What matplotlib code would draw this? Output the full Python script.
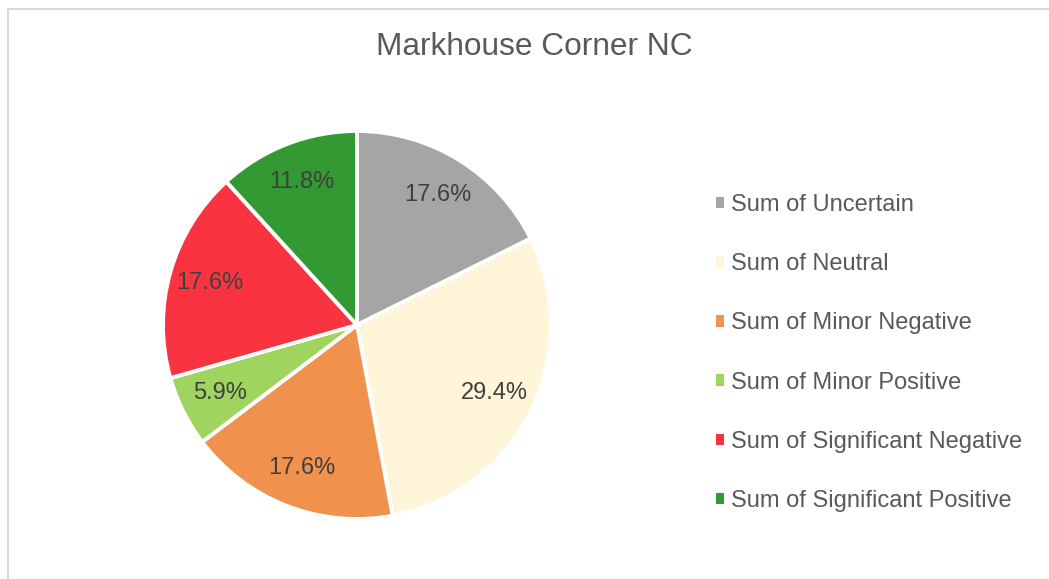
import matplotlib
matplotlib.use('Agg')
import matplotlib.pyplot as plt
from matplotlib.patches import Rectangle

categories = ["Sum of Uncertain", "Sum of Neutral", "Sum of Minor Negative",
              "Sum of Minor Positive", "Sum of Significant Negative",
              "Sum of Significant Positive"]
counts = [3, 5, 3, 1, 3, 2]
colors = ["#A5A5A5", "#FFF5D9", "#F0914E", "#9FD55F", "#FA3341", "#339933"]

plt.rcParams['font.family'] = ['Liberation Sans', 'DejaVu Sans']

W, H = 1049, 579
fig = plt.figure(figsize=(W / 100, H / 100), dpi=100)

# chart area frame (runs off the right/bottom edge)
fig.patches.append(Rectangle((7.5 / W, -0.1), 2.0, (H - 8.5) / H + 0.1,
                             transform=fig.transFigure, fill=False,
                             edgecolor="#D9D9D9", linewidth=1.5))

fig.text(534 / W, 1 - 47 / H, "Markhouse Corner NC", ha='center', va='center',
         fontsize=22.8, color="#595959")

cx, cy, r = 357, 325, 194
ax = fig.add_axes([(cx - r) / W, (H - cy - r) / H, 2 * r / W, 2 * r / H])
wedges, texts, autotexts = ax.pie(
    counts, colors=colors, startangle=90, counterclock=False,
    autopct='%1.1f%%', pctdistance=0.79,
    wedgeprops=dict(edgecolor='white', linewidth=2.8),
    textprops=dict(fontsize=17, color="#404040"))
ax.set_xlim(-1, 1)
ax.set_ylim(-1, 1)
ax.set_aspect('equal')
ax.axis('off')

leg = fig.legend(wedges, categories, loc='center left',
                 bbox_to_anchor=(716 / W, 1 - 353 / H), frameon=False,
                 fontsize=17, labelcolor="#595959", borderpad=0,
                 borderaxespad=0, handlelength=0.35, handleheight=0.35,
                 handletextpad=0.3, labelspacing=1.57)
for h in leg.legend_handles:
    h.set_edgecolor('none')

fig.savefig('out.png', dpi=100)
